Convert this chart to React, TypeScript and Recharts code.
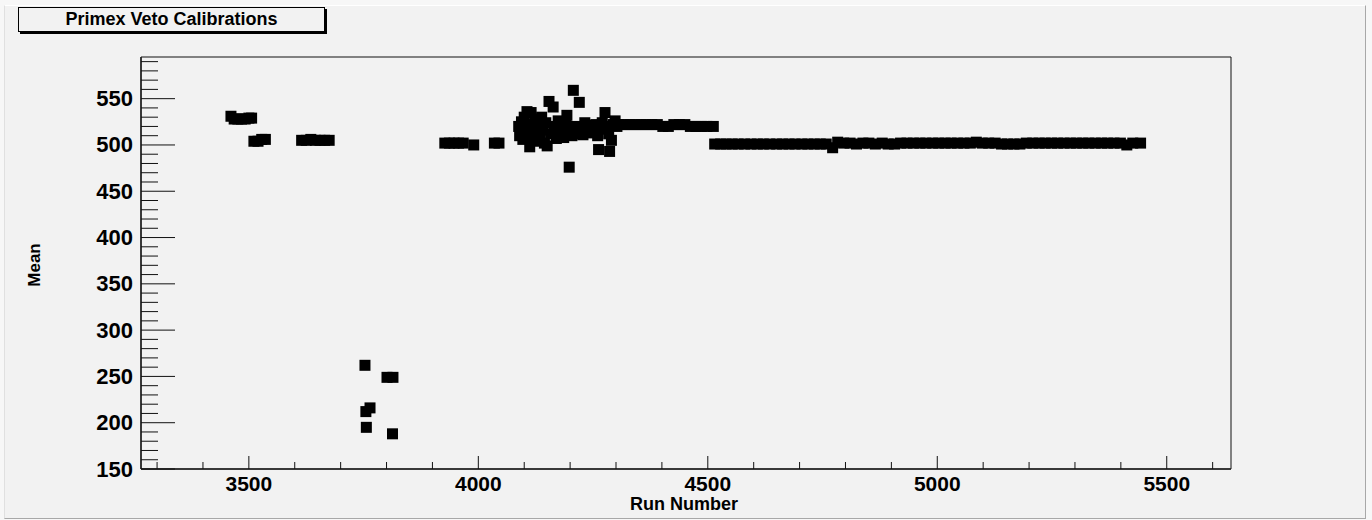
import { ScatterChart, Scatter, XAxis, YAxis, ReferenceArea } from 'recharts';

// [run, mean] pairs, grouped by run period
const earlyRuns: [number, number][] = [
  [3461, 531], [3468, 528], [3476, 528], [3484, 528], [3492, 528], [3500, 529], [3506, 529],
  [3511, 504], [3520, 504], [3528, 506], [3536, 506],
  [3615, 505], [3625, 505], [3635, 506], [3645, 505], [3655, 505], [3665, 505], [3675, 505],
];

const lowRuns: [number, number][] = [
  [3753, 262], [3755, 212], [3756, 195], [3764, 216], [3801, 249], [3813, 188], [3814, 249],
];

const preClusterRuns: [number, number][] = [
  [3927, 502], [3937, 502], [3947, 502], [3957, 502], [3967, 502], [3990, 500],
  [4035, 502], [4045, 502],
];

const clusterRuns: [number, number][] = [
  [4088, 520], [4090, 510], [4092, 514], [4094, 525], [4097, 506], [4100, 530], [4103, 518],
  [4106, 536], [4109, 512], [4112, 498], [4115, 535], [4118, 522], [4120, 508], [4123, 528],
  [4126, 515], [4129, 504], [4132, 520], [4135, 510], [4138, 530], [4141, 516], [4144, 502],
  [4147, 524], [4150, 499], [4154, 547], [4158, 512], [4163, 541], [4166, 520], [4170, 507],
  [4174, 526], [4178, 514], [4182, 519], [4186, 508], [4190, 522], [4193, 532], [4198, 476],
  [4201, 515], [4204, 510], [4207, 559], [4210, 520], [4214, 512], [4220, 546], [4224, 518],
  [4228, 511], [4232, 524], [4236, 516], [4240, 521], [4244, 513], [4248, 520], [4252, 515],
  [4256, 522], [4260, 510], [4262, 495], [4266, 517], [4270, 524], [4276, 535], [4280, 520],
  [4284, 512], [4286, 493], [4290, 505], [4294, 522], [4298, 526], [4302, 520], [4306, 522],
];

const bandRuns: [number, number][] = [
  [4318, 522], [4330, 522], [4342, 522], [4354, 522], [4366, 522], [4378, 522], [4390, 522],
  [4402, 520], [4414, 520], [4426, 522], [4438, 522], [4450, 522], [4462, 520], [4474, 520],
  [4486, 520], [4498, 520], [4512, 520],
];

const plateauRuns: [number, number][] = [
  [4515, 501], [4528, 501], [4540, 501], [4553, 501], [4566, 501], [4580, 501], [4594, 501],
  [4608, 501], [4621, 501], [4635, 501], [4650, 501], [4663, 501], [4677, 501], [4690, 501],
  [4705, 501], [4718, 501], [4732, 501], [4745, 501], [4758, 501], [4772, 497], [4783, 503],
  [4796, 502], [4810, 502], [4824, 501], [4838, 502], [4851, 502], [4865, 501], [4880, 502],
  [4893, 501], [4907, 501], [4920, 502], [4934, 502], [4948, 502], [4962, 502], [4975, 502],
  [4990, 502], [5003, 502], [5017, 502], [5030, 502], [5044, 502], [5058, 502], [5072, 502],
  [5085, 503], [5098, 502], [5112, 502], [5126, 502], [5140, 501], [5153, 501], [5167, 501],
  [5180, 501], [5194, 502], [5208, 502], [5222, 502], [5235, 502], [5249, 502], [5262, 502],
  [5276, 502], [5290, 502], [5303, 502], [5317, 502], [5330, 502], [5344, 502], [5358, 502],
  [5371, 502], [5385, 502], [5399, 502], [5413, 500], [5426, 502], [5443, 502],
];

const xTicks = [
  3300, 3400, 3500, 3600, 3700, 3800, 3900, 4000, 4100, 4200, 4300, 4400,
  4500, 4600, 4700, 4800, 4900, 5000, 5100, 5200, 5300, 5400, 5500, 5600,
];
const xLabels = [3500, 4000, 4500, 5000, 5500];

const yTicks = [
  150, 160, 170, 180, 190, 200, 210, 220, 230, 240, 250, 260, 270, 280, 290,
  300, 310, 320, 330, 340, 350, 360, 370, 380, 390, 400, 410, 420, 430, 440,
  450, 460, 470, 480, 490, 500, 510, 520, 530, 540, 550, 560, 570, 580, 590,
];
const yLabels = [150, 200, 250, 300, 350, 400, 450, 500, 550];

const X_DOMAIN: [number, number] = [3265, 5640];
const Y_DOMAIN: [number, number] = [150, 595];

const PLOT_LEFT = 141;
const PLOT_TOP = 57;
const PLOT_RIGHT = 1231;
const PLOT_BOTTOM = 469;
const W = 1372;
const H = 520;

const FONT = '"Liberation Sans", Arial, Helvetica, sans-serif';

const points = [
  ...earlyRuns, ...lowRuns, ...preClusterRuns, ...clusterRuns, ...bandRuns, ...plateauRuns,
].map(([run, mean]) => ({ run, mean }));

function XTick({ x, payload }: any) {
  const major = xLabels.includes(payload.value);
  return (
    <g>
      <line x1={x} x2={x} y1={PLOT_BOTTOM} y2={PLOT_BOTTOM - (major ? 13 : 7)} stroke="#111" strokeWidth={1} />
      {major && (
        <text
          x={x}
          y={PLOT_BOTTOM + 14}
          textAnchor="middle"
          dominantBaseline="central"
          fontFamily={FONT}
          fontWeight="bold"
          fontSize={21}
          fill="#000"
        >
          {payload.value}
        </text>
      )}
    </g>
  );
}

function YTick({ y, payload }: any) {
  const major = yLabels.includes(payload.value);
  return (
    <g>
      <line x1={PLOT_LEFT} x2={PLOT_LEFT + (major ? 34 : 17)} y1={y} y2={y} stroke="#111" strokeWidth={1} />
      {major && (
        <text
          x={PLOT_LEFT - 8}
          y={y}
          textAnchor="end"
          dominantBaseline="central"
          fontFamily={FONT}
          fontWeight="bold"
          fontSize={22}
          fill="#000"
        >
          {payload.value}
        </text>
      )}
    </g>
  );
}

const squareMarker = (props: any) => (
  <rect x={props.cx - 5.5} y={props.cy - 5.5} width={11} height={11} fill="#000" />
);

export default function App() {
  return (
    <div style={{ position: 'absolute', left: 0, top: 0, width: W, height: H, background: '#f7f7f7', fontFamily: FONT }}>
      {/* canvas bevel */}
      <div
        style={{
          position: 'absolute',
          left: 4,
          top: 5,
          width: 1360,
          height: 512,
          background: '#f2f2f2',
          borderTop: '1px solid #ffffff',
          borderLeft: '1px solid #e0e0e0',
          borderRight: '1px solid #a8a8a8',
          borderBottom: '1px solid #a8a8a8',
        }}
      />
      <div style={{ position: 'absolute', left: 0, top: 0 }}>
        <ScatterChart
          width={W}
          height={H}
          margin={{ top: PLOT_TOP, right: W - PLOT_RIGHT, bottom: 0, left: 0 }}
        >
          <XAxis
            type="number"
            dataKey="run"
            domain={X_DOMAIN}
            ticks={xTicks}
            interval={0}
            allowDataOverflow
            height={H - PLOT_BOTTOM}
            tick={<XTick />}
            tickLine={false}
            tickSize={0}
            tickMargin={0}
            axisLine={{ stroke: '#222', strokeWidth: 1.5 }}
          />
          <YAxis
            type="number"
            dataKey="mean"
            domain={Y_DOMAIN}
            ticks={yTicks}
            interval={0}
            allowDataOverflow
            width={PLOT_LEFT}
            tick={<YTick />}
            tickLine={false}
            tickSize={0}
            tickMargin={0}
            axisLine={{ stroke: '#222', strokeWidth: 1.5 }}
          />
          <ReferenceArea
            x1={X_DOMAIN[0]}
            x2={X_DOMAIN[1]}
            y1={Y_DOMAIN[0]}
            y2={Y_DOMAIN[1]}
            fill="none"
            stroke="#111"
            strokeWidth={1}
          />
          <Scatter data={points} shape={squareMarker} isAnimationActive={false} />
        </ScatterChart>
      </div>
      {/* axis titles */}
      <div
        style={{
          position: 'absolute',
          left: 584,
          top: 496,
          width: 200,
          textAlign: 'center',
          fontWeight: 'bold',
          fontSize: 18,
          lineHeight: '16px',
          color: '#000',
        }}
      >
        Run Number
      </div>
      <div
        style={{
          position: 'absolute',
          left: 35,
          top: 265,
          transform: 'translate(-50%, -50%) rotate(-90deg)',
          fontWeight: 'bold',
          fontSize: 17,
          lineHeight: '20px',
          color: '#000',
          whiteSpace: 'nowrap',
        }}
      >
        Mean
      </div>
      {/* title box */}
      <div
        style={{
          position: 'absolute',
          left: 18,
          top: 7,
          width: 305,
          height: 23,
          border: '1px solid #000',
          boxShadow: '2px 2px 0 #000',
          background: '#f2f2f2',
          textAlign: 'center',
          fontWeight: 'bold',
          fontSize: 18,
          lineHeight: '23px',
          color: '#000',
        }}
      >
        Primex Veto Calibrations
      </div>
    </div>
  );
}
